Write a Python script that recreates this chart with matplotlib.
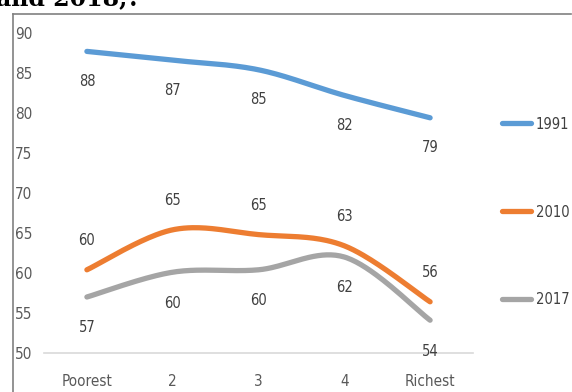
import numpy as np
import matplotlib
matplotlib.use("Agg")
import matplotlib.pyplot as plt
from matplotlib.lines import Line2D

plt.rcParams['font.family'] = ['Liberation Sans Narrow', 'DejaVu Sans']
plt.rcParams['font.stretch'] = 'condensed'

categories = ["Poorest", "2", "3", "4", "Richest"]
y_ticks = [50, 55, 60, 65, 70, 75, 80, 85, 90]

v1991 = [87.7, 86.6, 85.4, 82.2, 79.4]
v2010 = [60.4, 65.4, 64.8, 63.4, 56.4]
v2017 = [57.0, 60.1, 60.4, 62.0, 54.1]

series = [
    ("1991", v1991, "#5B9BD5", -30),
    ("2010", v2010, "#ED7D31", 29),
    ("2017", v2017, "#A5A5A5", -31),
]


def smooth(x, y, n=40):
    # excel-like smoothed line: cubic bezier through the points
    p = np.column_stack([x, y]).astype(float)
    p = np.vstack([p[0], p, p[-1]])
    out = []
    t = np.linspace(0, 1, n)[:, None]
    for i in range(1, len(p) - 2):
        p0, p1, p2, p3 = p[i - 1], p[i], p[i + 1], p[i + 2]
        c1 = p1 + (p2 - p0) / 6
        c2 = p2 - (p3 - p1) / 6
        seg = ((1 - t) ** 3) * p1 + 3 * ((1 - t) ** 2) * t * c1 + 3 * (1 - t) * t ** 2 * c2 + t ** 3 * p2
        out.append(seg if i == 1 else seg[1:])
    out = np.vstack(out)
    return out[:, 0], out[:, 1]


fig = plt.figure(figsize=(5.72, 3.92), dpi=100)
ax = fig.add_axes([44 / 572, 39 / 392, 429 / 572, 320 / 392])

x = np.arange(len(categories))
for name, vals, col, off in series:
    sx, sy = smooth(x, vals)
    ax.plot(sx, sy, color=col, lw=3.8, solid_capstyle='round', label=name)
    for xi, v in zip(x, vals):
        ax.annotate(f"{v:.0f}", (xi, v), xytext=(0, off), textcoords='offset pixels',
                    ha='center', va='center', fontsize=10.5, color='#404040')

ax.set_xlim(-0.5, len(categories) - 0.5)
ax.set_ylim(50, 90)
ax.set_xticks(x)
ax.set_xticklabels(categories)
ax.set_yticks(y_ticks)
ax.tick_params(axis='both', length=0, labelsize=11, colors='#595959')
ax.tick_params(axis='x', pad=15)
ax.tick_params(axis='y', pad=21)
for lab in ax.get_yticklabels():
    lab.set_horizontalalignment('left')
for s in ['top', 'right', 'left']:
    ax.spines[s].set_visible(False)
ax.spines['bottom'].set_color('#D9D9D9')
ax.spines['bottom'].set_linewidth(1.2)

leg = fig.legend(loc='center left', bbox_to_anchor=(502 / 572, 1 - 212 / 392),
                 frameon=False, borderaxespad=0, borderpad=0, fontsize=10.5,
                 handlelength=2.0, handletextpad=0.3, labelspacing=5.0,
                 labelcolor='#404040')

# chart border (screenshot frame)
fig.add_artist(Line2D([13 / 572, 13 / 572], [0, 1 - 14 / 392], color='#808080', lw=1.2))
fig.add_artist(Line2D([13 / 572, 571 / 572], [1 - 14 / 392, 1 - 14 / 392], color='#808080', lw=1.2))

fig.text(-4 / 572, 1 - 5 / 392, "and 2018,?", fontsize=17, fontweight='bold',
         family='DejaVu Serif', fontstretch='normal', va='baseline', ha='left', color='black')

fig.savefig("out.png", dpi=100)
